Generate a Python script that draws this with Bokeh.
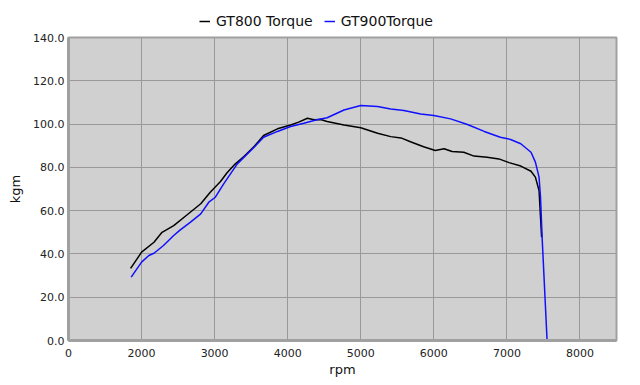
from bokeh.plotting import figure
from bokeh.layouts import column
from bokeh.models import Range1d, FixedTicker, PrintfTickFormatter, Legend, LegendItem
from bokeh.embed import file_html
from bokeh.resources import INLINE

gt800_rpm = [1850, 2000, 2170, 2280, 2440, 2620, 2810, 2940, 3080, 3170, 3280, 3400, 3540, 3670, 3860,
             4040, 4150, 4270, 4360, 4450, 4540, 4770, 5000, 5230, 5410, 5550, 5680, 5860, 6020,
             6140, 6250, 6410, 6550, 6730, 6890, 7030, 7190, 7330, 7390, 7440, 7460, 7475]
gt800_kgm = [33.3, 40.8, 45.4, 50.0, 53.1, 58.0, 63.2, 68.5, 73.5, 77.5, 81.5, 85.0, 89.6, 94.7, 97.8,
             99.6, 100.9, 102.7, 102.0, 102.1, 101.2, 99.6, 98.3, 95.8, 94.2, 93.6, 91.8, 89.5, 87.8,
             88.6, 87.3, 87.0, 85.2, 84.7, 83.9, 82.2, 80.6, 78.2, 75.5, 69.3, 57.0, 47.7]

gt900_rpm = [1858, 2000, 2100, 2170, 2300, 2440, 2530, 2670, 2810, 2920, 3010, 3126, 3310, 3540,
             3670, 3860, 4040, 4220, 4400, 4540, 4770, 5000, 5230, 5410, 5590, 5820, 6000, 6230,
             6460, 6690, 6910, 7050, 7190, 7330, 7390, 7440, 7460, 7484, 7550]
gt900_kgm = [29.3, 36.2, 39.3, 40.3, 43.9, 48.5, 51.1, 54.7, 58.5, 63.9, 66.2, 72.5, 81.6, 89.3,
             93.9, 96.6, 98.9, 100.4, 102.0, 102.9, 106.5, 108.6, 108.1, 107.0, 106.3, 104.7, 104.0, 102.4,
             99.8, 96.6, 93.9, 92.9, 90.9, 87.0, 82.4, 75.5, 66.2, 46.2, 0.0]

series_names = ["GT800 Torque", "GT900Torque"]
series_colors = ["black", "#1010ff"]

x_ticks = [1000, 2000, 3000, 4000, 5000, 6000, 7000, 8000]
x_tick_labels = {1000: "0"}
y_ticks = [0, 20, 40, 60, 80, 100, 120, 140]

FONT = "DejaVu Sans"

# ---- main chart ----
p = figure(width=640, height=353, output_backend="svg", toolbar_location=None,
           x_range=Range1d(1000, 8500), y_range=Range1d(0, 140),
           min_border_left=68, min_border_right=24, min_border_top=5, min_border_bottom=45)

p.background_fill_color = "#d0d0d0"
p.border_fill_color = "white"
p.outline_line_color = "#a0a0a0"
p.outline_line_width = 2

p.xaxis.ticker = FixedTicker(ticks=x_ticks)
p.xaxis.major_label_overrides = x_tick_labels
p.yaxis.ticker = FixedTicker(ticks=y_ticks)
p.yaxis.formatter = PrintfTickFormatter(format="%.1f")

for ax in (p.xaxis[0], p.yaxis[0]):
    ax.axis_line_color = "#a0a0a0"
    ax.axis_line_width = 3
    ax.major_tick_line_color = None
    ax.minor_tick_line_color = None
    ax.major_tick_in = 0
    ax.major_tick_out = 0
    ax.minor_tick_in = 0
    ax.minor_tick_out = 0
    ax.major_label_text_font = FONT
    ax.major_label_text_font_size = "11px"
    ax.major_label_text_color = "#222222"
    ax.axis_label_text_font = FONT
    ax.axis_label_text_font_size = "13px"
    ax.axis_label_text_font_style = "normal"
    ax.axis_label_text_color = "#111111"

p.xaxis.axis_label = "rpm"
p.yaxis.axis_label = "kgm"
p.xaxis.major_label_standoff = 8
p.yaxis.major_label_standoff = 4
p.xaxis.axis_label_standoff = 2
p.yaxis.axis_label_standoff = 7

p.xgrid.ticker = FixedTicker(ticks=x_ticks)
p.ygrid.ticker = FixedTicker(ticks=y_ticks)
p.grid.grid_line_color = "#999999"
p.grid.grid_line_width = 1

p.line(gt800_rpm, gt800_kgm, line_color=series_colors[0], line_width=1.5)
p.line(gt900_rpm, gt900_kgm, line_color=series_colors[1], line_width=1.5)

# ---- legend strip above the chart (same series, drawn out of its view) ----
lg = figure(width=640, height=32, output_backend="svg", toolbar_location=None,
            x_range=Range1d(0, 1), y_range=Range1d(0, 1),
            x_axis_location=None, y_axis_location=None,
            min_border=0, min_border_left=0, min_border_right=0,
            min_border_top=0, min_border_bottom=0)
lg.grid.visible = False
lg.outline_line_color = None
lg.background_fill_color = "white"
lg.border_fill_color = "white"

d1 = lg.line(gt800_rpm, gt800_kgm, line_color=series_colors[0], line_width=1.5)
d2 = lg.line(gt900_rpm, gt900_kgm, line_color=series_colors[1], line_width=1.5)

legend = Legend(items=[LegendItem(label=series_names[0], renderers=[d1]),
                       LegendItem(label=series_names[1], renderers=[d2])],
                orientation="horizontal", location=(131, 3),
                background_fill_alpha=0, border_line_color=None,
                padding=0, margin=0, spacing=11, glyph_width=11, glyph_height=16,
                label_height=16, label_standoff=6,
                label_text_font=FONT, label_text_font_size="14px", label_text_color="#111111")
lg.add_layout(legend, "center")

layout = column(lg, p, spacing=0)

open("out.html", "w").write(file_html(layout, INLINE))
